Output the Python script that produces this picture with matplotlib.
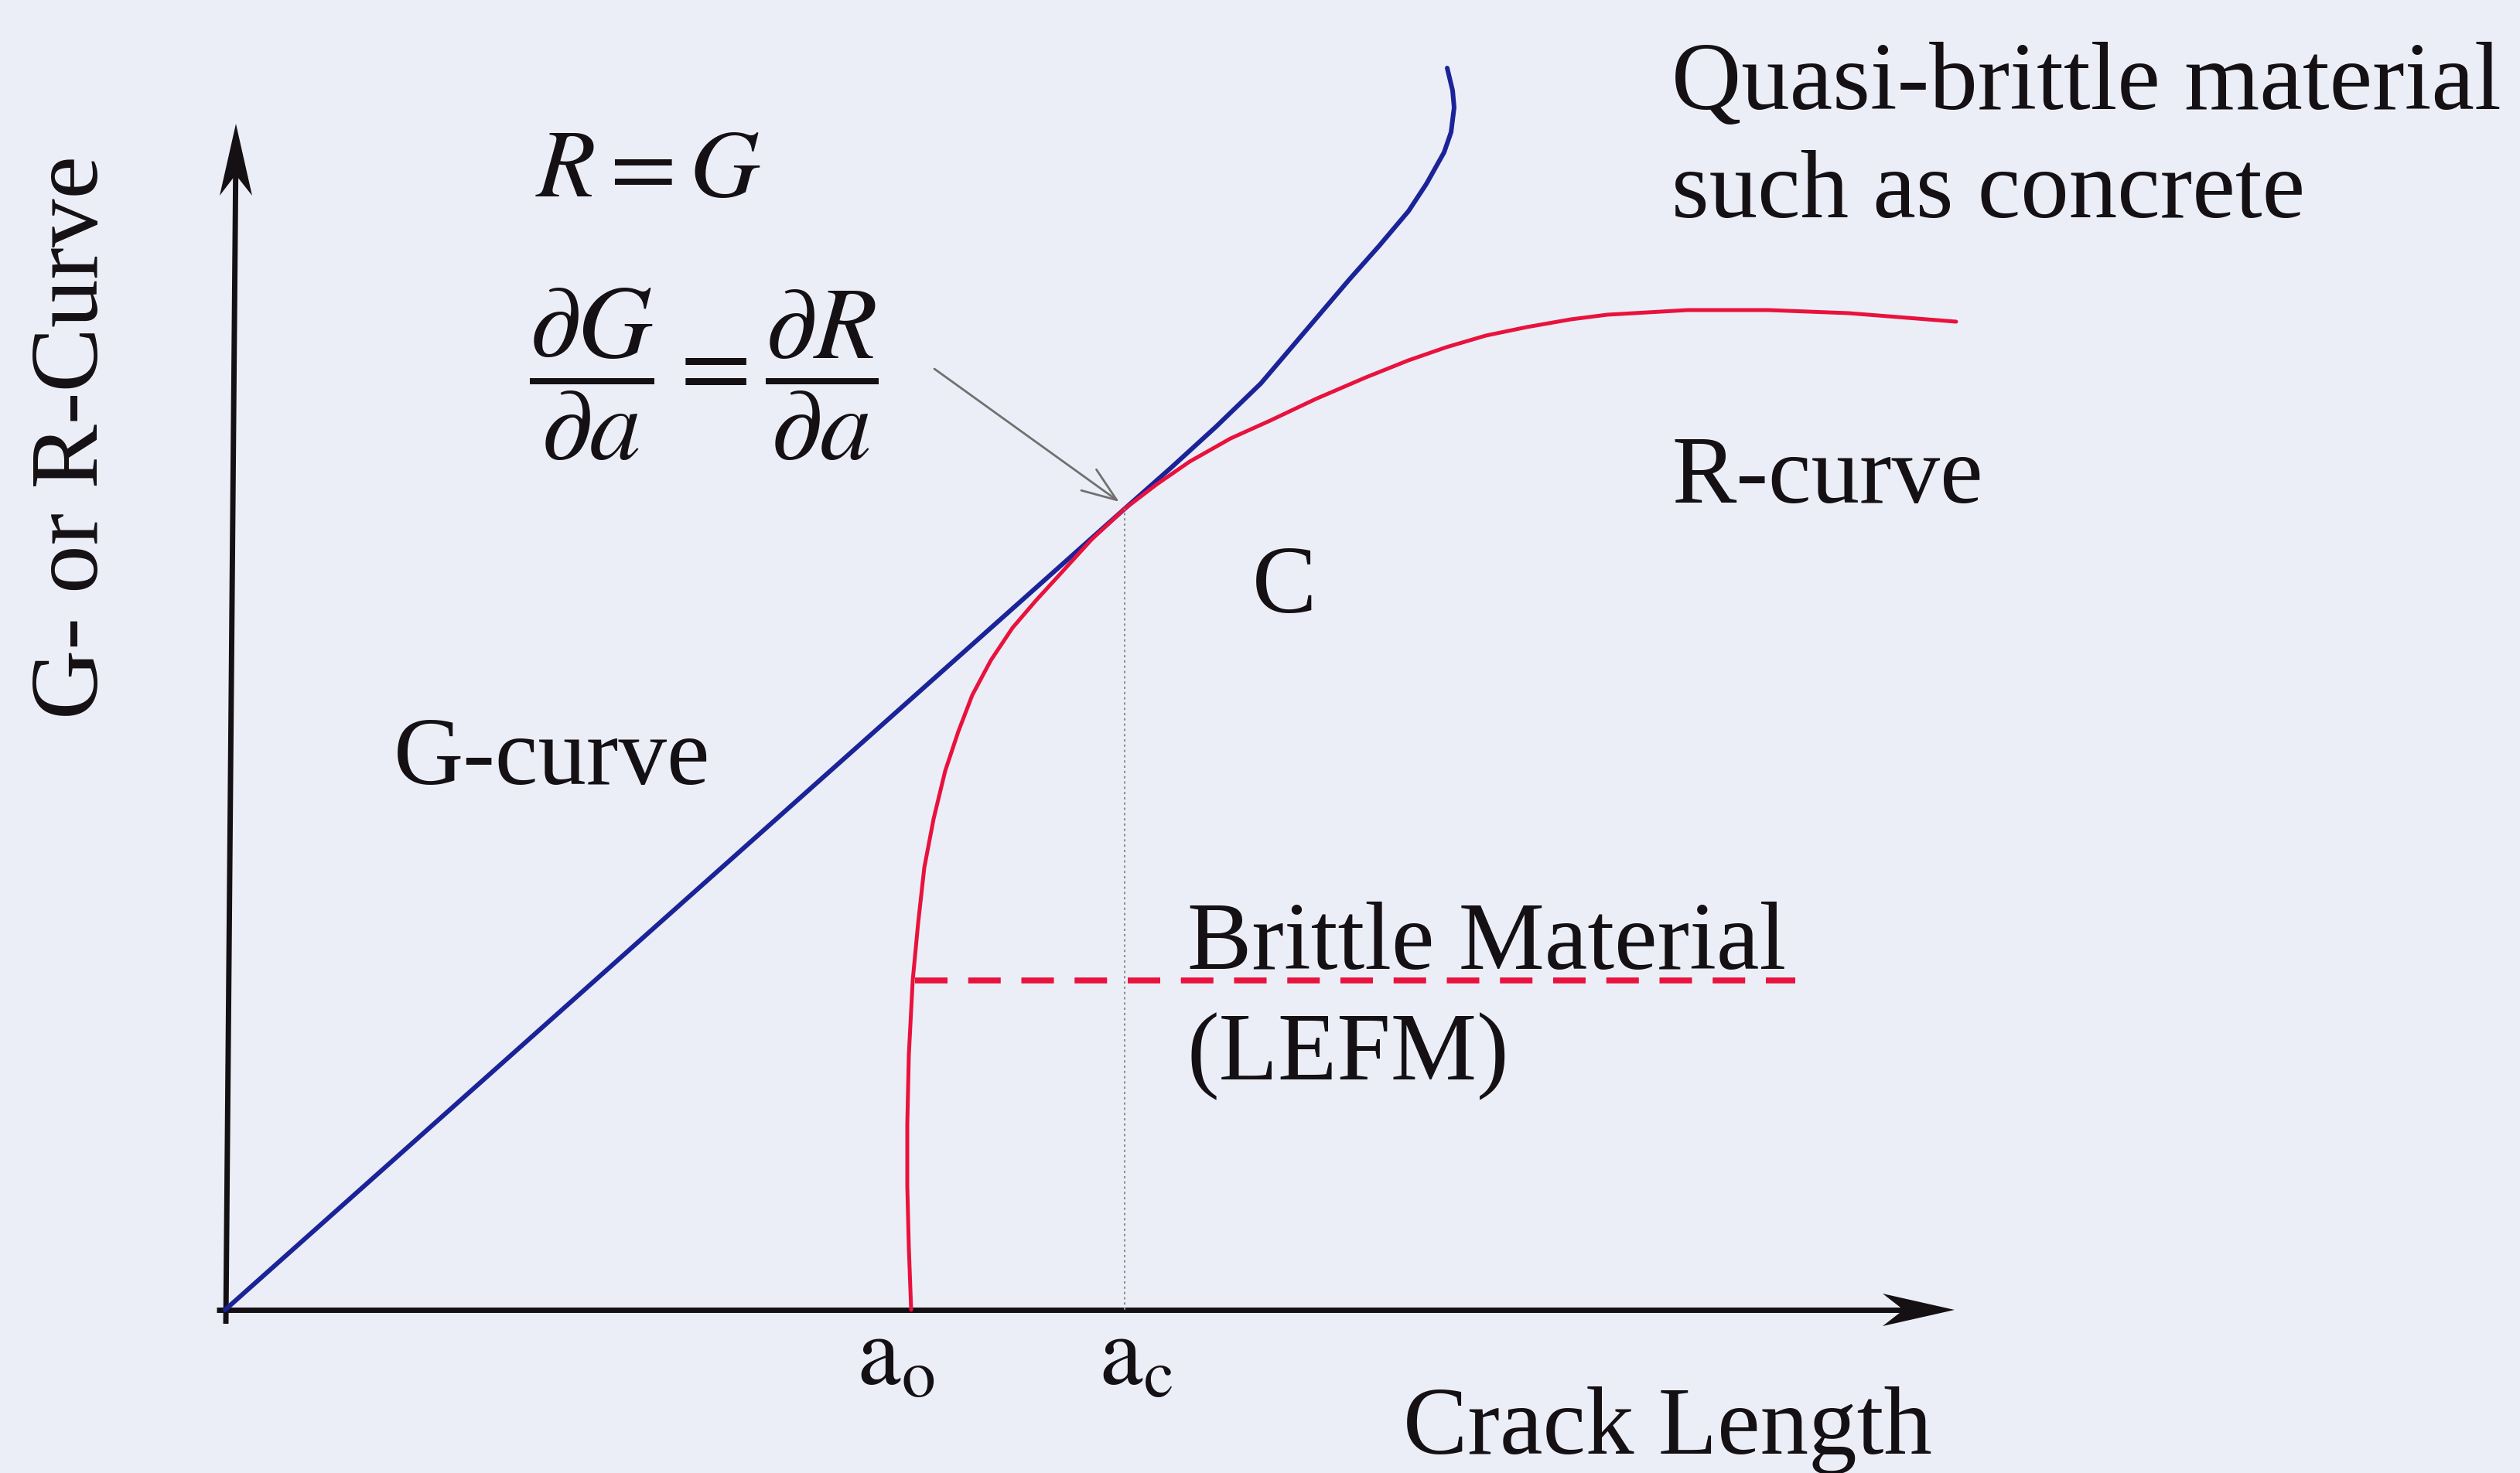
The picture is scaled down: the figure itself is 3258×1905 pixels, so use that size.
import numpy as np
import matplotlib.pyplot as plt

plt.rcParams['font.family'] = ['Liberation Serif', 'DejaVu Serif']
plt.rcParams['mathtext.fontset'] = 'stix'

# values (1 unit = 100 px, origin at the axes corner)
g_a = [0.0, 11.63, 12.24, 12.81, 13.39, 13.96, 14.53, 14.92, 15.30, 15.53,
       15.76, 15.85, 15.89, 15.87, 15.80]
g_val = [0.0, 10.36, 10.90, 11.42, 11.98, 12.65, 13.32, 13.76, 14.21, 14.56,
         14.97, 15.23, 15.55, 15.77, 16.06]

r_a = [8.87, 8.84, 8.82, 8.82, 8.84, 8.89, 8.96, 9.04, 9.16, 9.31, 9.48, 9.66,
       9.90, 10.18, 10.48, 10.80, 11.20, 11.63, 12.05, 12.47, 13.00, 13.51,
       14.10, 14.75, 15.30, 15.79, 16.30, 16.83, 17.40, 17.87, 18.91, 19.95,
       20.99, 22.38]
r_val = [0.0, 0.80, 1.60, 2.40, 3.30, 4.26, 5.00, 5.72, 6.35, 6.97, 7.48, 7.95,
         8.40, 8.82, 9.17, 9.52, 9.96, 10.36, 10.68, 10.97, 11.27, 11.50,
         11.78, 12.06, 12.28, 12.45, 12.60, 12.71, 12.81, 12.87, 12.93, 12.93,
         12.89, 12.78]

a_o = 8.87
a_c = 11.63
G_c = 10.36
lefm_level = 4.26
lefm_end = 20.30

x_axis = [-0.11, 22.36]
y_axis_bottom = [0.01, -0.18]
y_axis_top = [0.14, 15.34]
head_len, head_half, notch = 0.93, 0.21, 0.27

bg = '#eceef7'
blue = '#1b2398'
red = '#e8123d'
ink = '#141014'
fs = 90

fig = plt.figure(figsize=(32.58, 19.05), dpi=100, facecolor=bg)
ax = fig.add_axes([0, 0, 1, 1])
ax.set_facecolor(bg)
ax.set_xlim(-2.91, 29.67)
ax.set_ylim(-2.11, 16.94)
ax.axis('off')

# axes with stealth-style arrow heads
tip = x_axis[1]
ax.plot([x_axis[0], tip - head_len + notch], [0, 0], color=ink, lw=5,
        solid_capstyle='butt')
ax.fill([tip, tip - head_len, tip - head_len + notch, tip - head_len],
        [0, head_half, 0, -head_half], color=ink, lw=0)
tx, ty = y_axis_top
ax.plot([y_axis_bottom[0], tx - 0.003], [y_axis_bottom[1], ty - head_len + notch],
        color=ink, lw=5, solid_capstyle='butt')
ax.fill([tx, tx - head_half, tx - 0.003, tx + head_half],
        [ty, ty - head_len, ty - head_len + notch, ty - head_len], color=ink, lw=0)

# curves
ax.plot(g_a, g_val, color=blue, lw=4.3, solid_capstyle='round', solid_joinstyle='round')
ax.plot(r_a, r_val, color=red, lw=3.6, solid_capstyle='round', solid_joinstyle='round')
ax.plot([a_o + 0.05, lefm_end], [lefm_level, lefm_level], color=red, lw=5.5,
        dashes=(5.5, 3.5))
ax.plot([a_c, a_c], [0, G_c], color='#8a8a8a', lw=1.4, ls=(0, (1.5, 2)))

# pointer to tangency point
ax.annotate('', xy=(11.56, 10.45), xytext=(9.17, 12.17),
            arrowprops=dict(arrowstyle='->,head_length=32,head_width=12',
                            mutation_scale=1, lw=2, color='#707070',
                            shrinkA=0, shrinkB=0))

# labels
ax.text(18.70, 15.53, 'Quasi-brittle material', fontsize=fs, color=ink, va='baseline')
ax.text(18.70, 14.13, 'such as concrete', fontsize=fs, color=ink, va='baseline')
ax.text(4.01, 14.40, r'$R = G$', fontsize=fs, color=ink, va='baseline')
ax.text(3.93, 12.10, r'$\dfrac{\partial G}{\partial a} = \dfrac{\partial R}{\partial a}$',
        fontsize=96, color=ink, va='center')
ax.text(18.70, 10.44, 'R-curve', fontsize=fs, color=ink, va='baseline')
ax.text(13.28, 9.02, 'C', fontsize=fs, color=ink, va='baseline')
ax.text(2.18, 6.80, 'G-curve', fontsize=fs, color=ink, va='baseline')
ax.text(12.44, 4.41, 'Brittle Material', fontsize=fs, color=ink, va='baseline')
ax.text(12.44, 2.98, '(LEFM)', fontsize=fs, color=ink, va='baseline')
ax.text(8.17, -0.97, r'$\mathrm{a}_\mathrm{o}$', fontsize=fs, color=ink, va='baseline')
ax.text(11.30, -0.97, r'$\mathrm{a}_\mathrm{c}$', fontsize=fs, color=ink, va='baseline')
ax.text(15.23, -1.86, 'Crack Length', fontsize=fs, color=ink, va='baseline')
ax.text(-1.95, 11.28, 'G- or R-Curve', fontsize=fs, color=ink, rotation=90,
        ha='center', va='center')

fig.savefig('out.png', dpi=100, facecolor=bg)
